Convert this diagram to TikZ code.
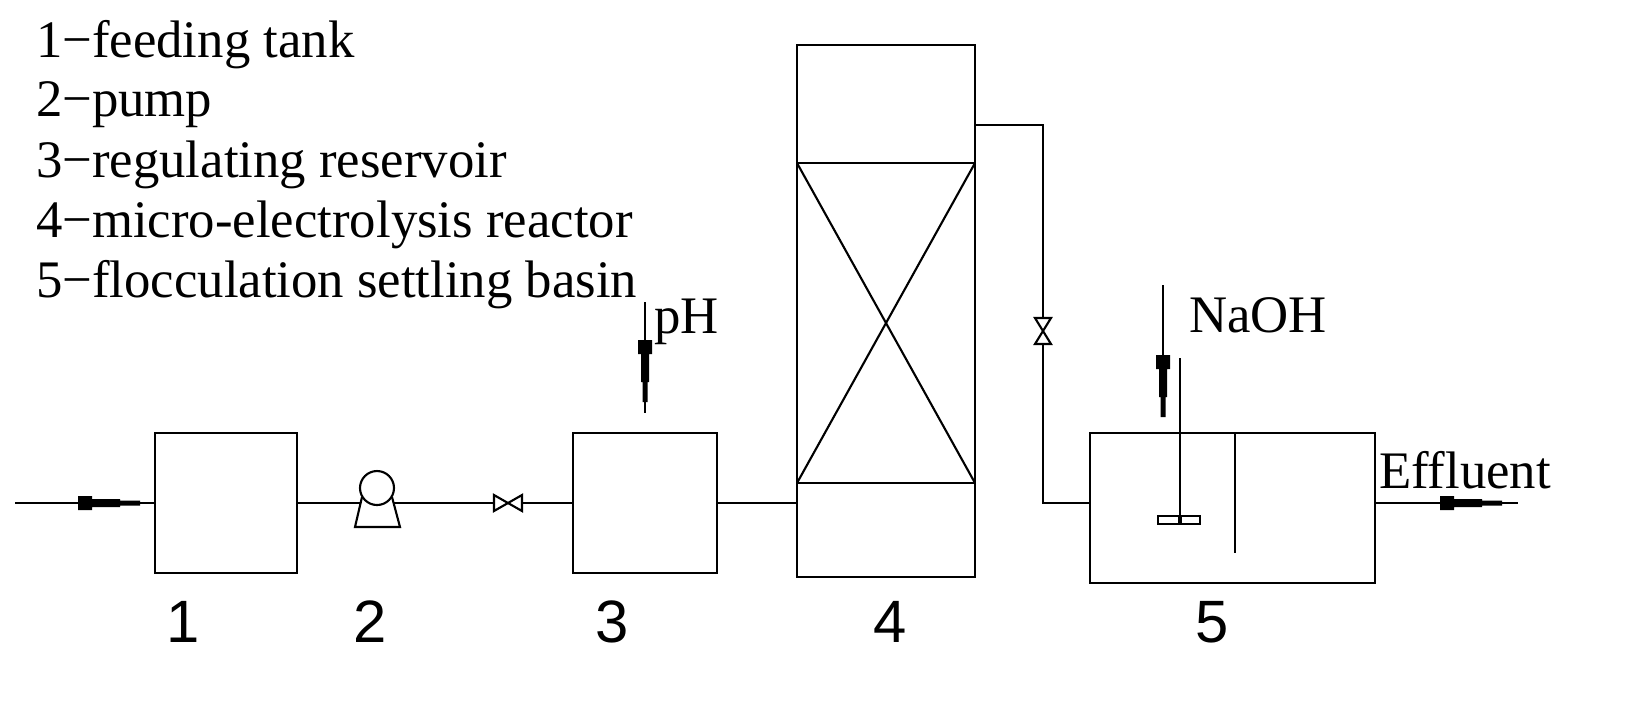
\documentclass[tikz,border=0pt]{standalone}
\usepackage{fontspec}
\setmainfont{Liberation Serif}
\newfontfamily\numfont{Liberation Sans}
\begin{document}
\begin{tikzpicture}[x=0.01cm,y=-0.01cm,line width=0.6pt]
\tikzset{lbl/.style={font=\fontsize{17}{17}\selectfont\numfont},
  txt/.style={font=\fontsize{15}{15}\selectfont,inner sep=0pt,anchor=west},
  dose/.pic={\fill (0,-7) -- (14,-7) -- (14,-4) -- (42,-4) -- (42,-2.5) -- (62,-2.5) -- (62,2.5) -- (42,2.5) -- (42,4) -- (14,4) -- (14,7) -- (0,7) -- cycle;}}
\useasboundingbox (0,0) rectangle (1642,714);
% legend
\node[txt] at (35,45) {1−feeding tank};
\node[txt] at (35,105) {2−pump};
\node[txt] at (35,165) {3−regulating reservoir};
\node[txt] at (35,225) {4−micro-electrolysis reactor};
\node[txt] at (35,285) {5−flocculation settling basin};
% units
\draw (155,433) rectangle (297,573);
\draw (573,433) rectangle (717,573);
\draw (797,45) rectangle (975,577);
\draw (797,163) -- (975,163) (797,483) -- (975,483);
\draw (797,163) -- (975,483) (975,163) -- (797,483);
\draw (1090,433) rectangle (1375,583);
\draw (1235,433) -- (1235,553);
% pump
\draw (377,488) circle (17);
\draw (362,497) -- (355,527) -- (400,527) -- (392,497);
% pipes
\coordinate (in) at (15,503);
\coordinate (out) at (1518,503);
\draw (in) -- (155,503);
\draw (297,503) -- (360,503) (394,503) -- (494,503) (522,503) -- (573,503);
\draw (717,503) -- (797,503);
\draw (975,125) -- (1043,125) -- (1043,318) (1043,344) -- (1043,503) -- (1090,503);
\draw (1375,503) -- (out);
% valves
\draw (494,495) -- (522,511) -- (522,495) -- (494,511) -- cycle;
\draw (1035,318) -- (1051,344) -- (1035,344) -- (1051,318) -- cycle;
% dosing
\pic at (78,503) {dose};
\pic at (1440,503) {dose};
\draw (645,302) -- (645,413);
\pic[rotate=-90] at (645,340) {dose};
\draw (1163,285) -- (1163,417);
\pic[rotate=-90] at (1163,355) {dose};
\node[txt] at (653,322) {pH};
\node[txt] at (1188,315) {NaOH};
\node[txt] at (1378,470) {Effluent};
% stirrer
\draw (1180,358) -- (1180,520);
\draw (1158,516) rectangle (1179,524) (1181,516) rectangle (1200,524);
% numbers
\node[lbl] at (183,622) {1};
\node[lbl] at (370,622) {2};
\node[lbl] at (612,622) {3};
\node[lbl] at (890,622) {4};
\node[lbl] at (1212,622) {5};
\end{tikzpicture}
\end{document}
